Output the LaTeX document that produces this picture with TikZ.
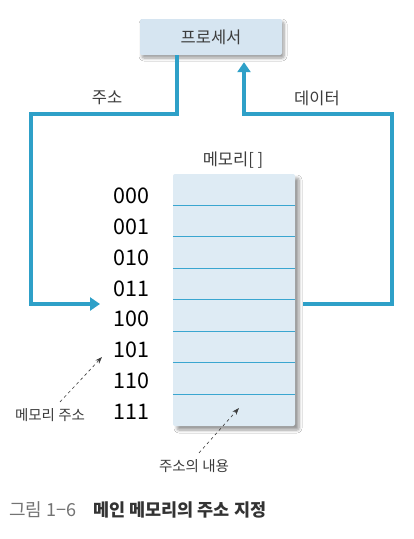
\documentclass[tikz,border=0pt]{standalone}
\usepackage{fontspec}
\setmainfont{Noto Sans CJK KR}
\usetikzlibrary{arrows.meta}
\usetikzlibrary{shadows.blur}

\definecolor{busblue}{RGB}{46,160,200}
\definecolor{rowblue}{RGB}{58,166,208}
\definecolor{procfill}{RGB}{214,229,241}
\definecolor{memfill}{RGB}{222,235,244}
\definecolor{textgray}{RGB}{60,60,60}

\tikzset{
  bus/.style={line width=3.6pt, draw=busblue},
  bustip/.style={-{Triangle[width=13pt,length=10pt]}},
  procbox/.style={fill=procfill, rounded corners=2pt, minimum width=142pt, minimum height=36pt,
    blur shadow={shadow xshift=2pt, shadow yshift=-3pt, shadow blur steps=6, shadow blur radius=3pt}},
  membox/.style={fill=memfill, rounded corners=2pt, minimum width=122pt, minimum height=252pt,
    blur shadow={shadow xshift=4pt, shadow yshift=-4pt, shadow blur steps=6, shadow blur radius=3pt}},
  rowline/.style={draw=rowblue, line width=1.1pt},
  addr/.style={font=\fontsize{21.5}{21.5}\selectfont, text=black},
  label/.style={font=\fontsize{16.5}{16.5}\selectfont, text=textgray},
  note/.style={font=\fontsize{14.5}{14.5}\selectfont, text=textgray},
  pointer/.style={dashed, draw=textgray, line width=0.6pt, -{Stealth[length=7pt,width=5pt]}}
}

\begin{document}
\begin{tikzpicture}[x=1pt,y=-1pt]
        \useasboundingbox [fill=white] (0,0) rectangle (414,539);
        %
        \node [procbox, label] (proc) at (211,37) {프로세서};
        \node [membox] (mem) at (234,300) {};
        \foreach \i in {1,...,7}
          \draw [rowline] ([yshift=-\i*31.5pt]mem.north west) -- ([yshift=-\i*31.5pt]mem.north east);
        %
        \node [label] (memname) at (233,160) {메모리[ ]};
        \foreach \a [count=\i] in {000,001,010,011,100,101,110,111}
          \node [addr] (addr\i) at (131.5,165.2+30.8*\i) {\a};
        %
        \coordinate (addrturn) at (31,114);
        \coordinate (addrtip) at (100,304);
        \coordinate (datastart) at (303,304);
        \coordinate (dataturn) at (392,114);
        \draw [bus, bustip] ([xshift=-34pt]proc.south) |- (addrturn) |- (addrtip);
        \draw [bus, bustip] (datastart) -| (dataturn) -| ([xshift=33pt,yshift=-7pt]proc.south);
        \node [label] (addrlabel) at (107,98) {주소};
        \node [label] (datalabel) at (317,98) {데이터};
        %
        \node [note] (addrnote) at (50,415) {메모리 주소};
        \node [note] (cellnote) at (194,466) {주소의 내용};
        \coordinate (addrnotetip) at (102,357);
        \coordinate (cellnotetip) at (239,408);
        \draw [pointer] ([xshift=10pt,yshift=3pt]addrnote.north) -- (addrnotetip);
        \draw [pointer] ([xshift=5pt,yshift=3pt]cellnote.north) -- (cellnotetip);
        %
        \node [anchor=west, font=\fontsize{18}{18}\selectfont, text=black!55, inner sep=0pt] (fignum) at (9,510) {그림 1−6};
        \node [anchor=west, font=\fontsize{17.5}{17.5}\selectfont\bfseries, text=black!80, inner sep=0pt] (figtitle) at (93,510) {메인 메모리의 주소 지정};
      \end{tikzpicture}
\end{document}
